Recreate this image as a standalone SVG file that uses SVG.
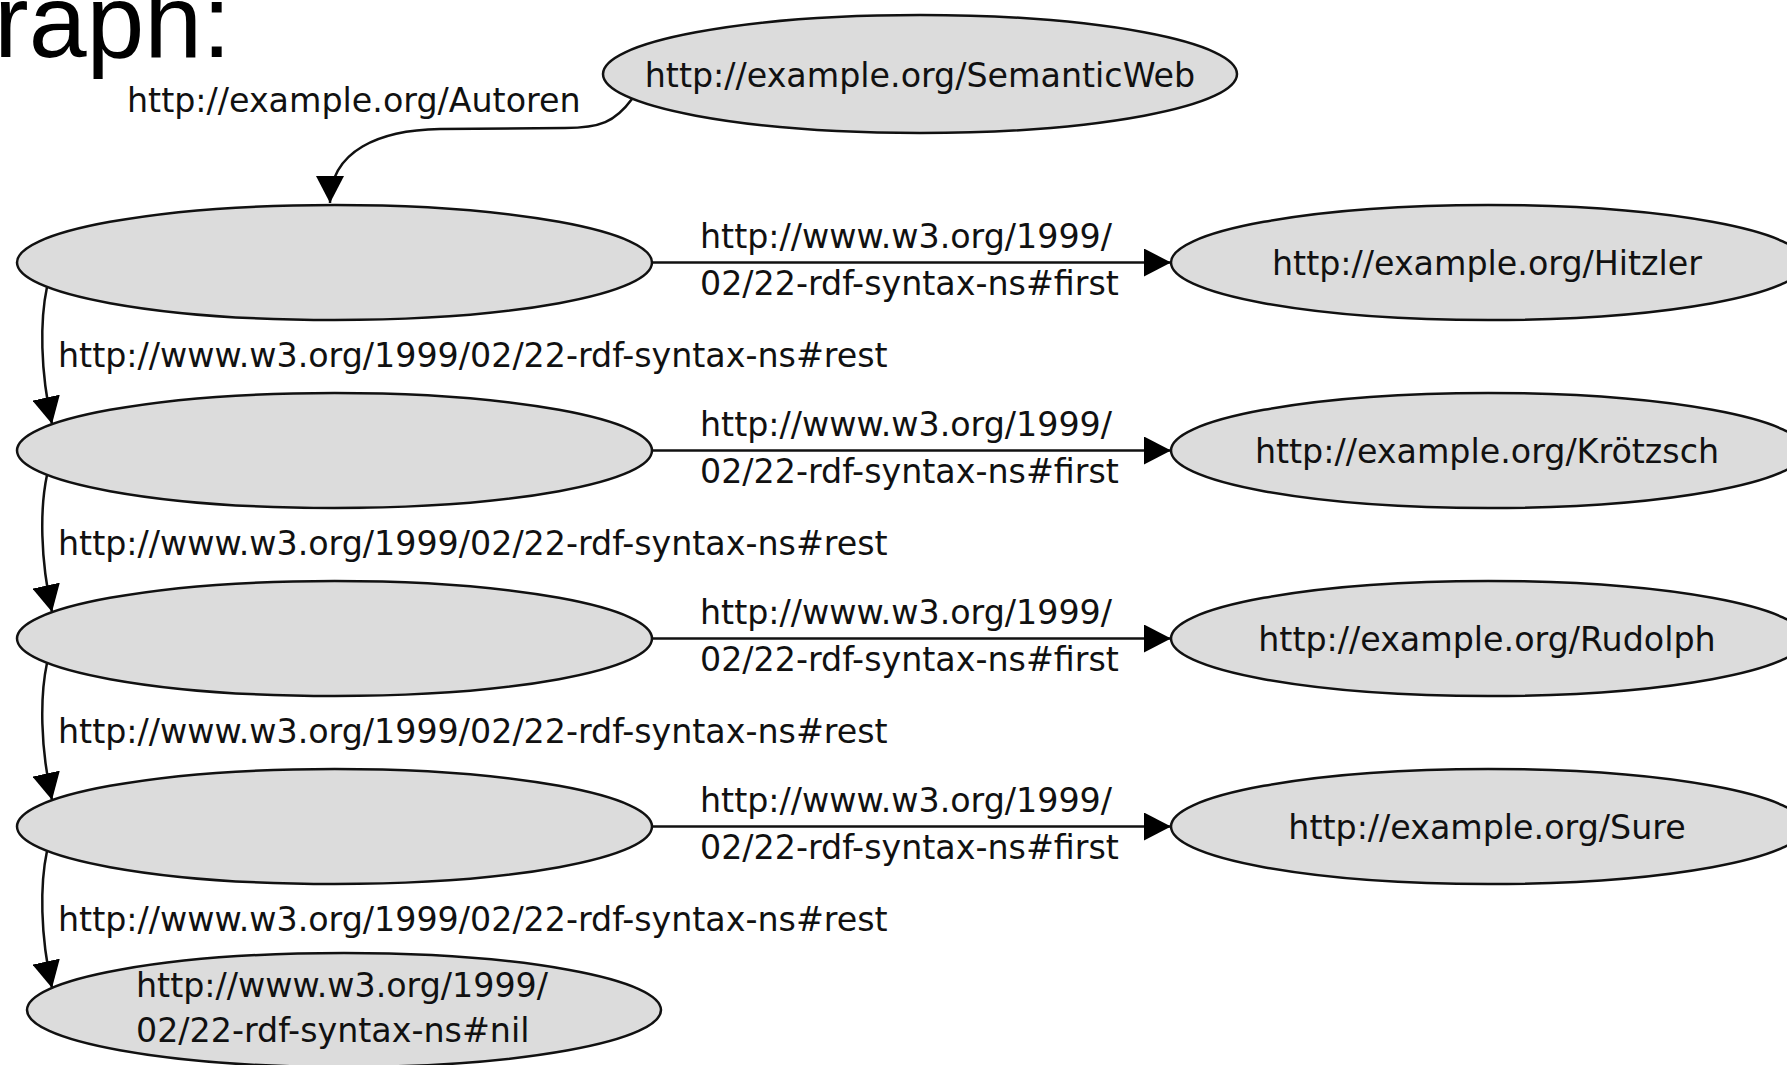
<svg xmlns="http://www.w3.org/2000/svg" width="1787" height="1065" viewBox="0 0 1787 1065">
<style>
  .node ellipse { fill: #dcdcdc; stroke: #111; stroke-width: 2.5; }
  text { font-family: "DejaVu Sans", "Liberation Sans", sans-serif; font-size: 33.3px; fill: #111; }
  .c { text-anchor: middle; }
  .edge { fill: none; stroke: #111; stroke-width: 2.5; marker-end: url(#arrow); }
  .title { font-family: "Liberation Sans", Arial, sans-serif; font-size: 104px; fill: #000; }
</style>
<defs>
  <marker id="arrow" markerUnits="userSpaceOnUse" viewBox="0 0 27 28" refX="27" refY="14" markerWidth="27" markerHeight="28" orient="auto">
    <path d="M0,0 L27,14 L0,28 Z" fill="#000"/>
  </marker>
</defs>
<rect width="1787" height="1065" fill="#fff"/>
<text class="title" x="-6" y="57">raph:</text>

<g id="connectors">
  <path class="edge" d="M632,99 C615,122 600,128 565,128 L440,129 C380,130 330,150 330,203"/>
  <path class="edge" d="M652,262.5 L1171,262.5"/>
  <path class="edge" d="M652,450.5 L1171,450.5"/>
  <path class="edge" d="M652,638.5 L1171,638.5"/>
  <path class="edge" d="M652,826.5 L1171,826.5"/>
  <path class="edge" d="M47,287 C40,320 40,370 52,424"/>
  <path class="edge" d="M47,475 C40,508 40,558 52,612"/>
  <path class="edge" d="M47,663 C40,696 40,746 52,800"/>
  <path class="edge" d="M47,851 C40,884 40,934 52,988"/>
  <text x="127" y="112">http://example.org/Autoren</text>
  <text x="700" y="248">http://www.w3.org/1999/</text>
  <text x="700" y="295">02/22-rdf-syntax-ns#first</text>
  <text x="700" y="436">http://www.w3.org/1999/</text>
  <text x="700" y="483">02/22-rdf-syntax-ns#first</text>
  <text x="700" y="624">http://www.w3.org/1999/</text>
  <text x="700" y="671">02/22-rdf-syntax-ns#first</text>
  <text x="700" y="812">http://www.w3.org/1999/</text>
  <text x="700" y="859">02/22-rdf-syntax-ns#first</text>
  <text x="58" y="367">http://www.w3.org/1999/02/22-rdf-syntax-ns#rest</text>
  <text x="58" y="555">http://www.w3.org/1999/02/22-rdf-syntax-ns#rest</text>
  <text x="58" y="743">http://www.w3.org/1999/02/22-rdf-syntax-ns#rest</text>
  <text x="58" y="931">http://www.w3.org/1999/02/22-rdf-syntax-ns#rest</text>
</g>

<g id="semanticweb" class="node">
  <ellipse cx="920" cy="74" rx="317" ry="59"/>
  <text class="c" x="920" y="87">http://example.org/SemanticWeb</text>
</g>
<g id="list1" class="node"><ellipse cx="334.5" cy="262.5" rx="317.5" ry="57.5"/></g>
<g id="list2" class="node"><ellipse cx="334.5" cy="450.5" rx="317.5" ry="57.5"/></g>
<g id="list3" class="node"><ellipse cx="334.5" cy="638.5" rx="317.5" ry="57.5"/></g>
<g id="list4" class="node"><ellipse cx="334.5" cy="826.5" rx="317.5" ry="57.5"/></g>
<g id="hitzler" class="node">
  <ellipse cx="1488" cy="262.5" rx="317" ry="57.5"/>
  <text class="c" x="1487" y="274.5">http://example.org/Hitzler</text>
</g>
<g id="kroetzsch" class="node">
  <ellipse cx="1488" cy="450.5" rx="317" ry="57.5"/>
  <text class="c" x="1487" y="462.5">http://example.org/Krötzsch</text>
</g>
<g id="rudolph" class="node">
  <ellipse cx="1488" cy="638.5" rx="317" ry="57.5"/>
  <text class="c" x="1487" y="650.5">http://example.org/Rudolph</text>
</g>
<g id="sure" class="node">
  <ellipse cx="1488" cy="826.5" rx="317" ry="57.5"/>
  <text class="c" x="1487" y="838.5">http://example.org/Sure</text>
</g>
<g id="nil" class="node">
  <ellipse cx="344" cy="1010" rx="317" ry="57"/>
  <text x="136" y="997">http://www.w3.org/1999/</text>
  <text x="136" y="1042">02/22-rdf-syntax-ns#nil</text>
</g>
</svg>
